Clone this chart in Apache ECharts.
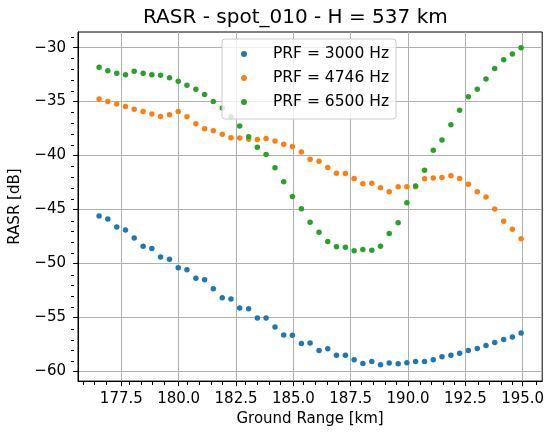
<!DOCTYPE html>
<html>
<head>
<meta charset="utf-8">
<script src="https://cdn.jsdelivr.net/npm/echarts@6/dist/echarts.min.js"></script>
<style>
  html, body { margin: 0; padding: 0; background: #fff; }
  #chart { width: 547px; height: 432px; }
</style>
</head>
<body>
<div id="chart"></div>
<script>
// Ground range samples [km]
const groundRange = [
  176.53, 176.91, 177.30, 177.68, 178.06, 178.45, 178.83, 179.21, 179.60, 179.98,
  180.36, 180.75, 181.13, 181.51, 181.90, 182.28, 182.66, 183.05, 183.43, 183.81,
  184.20, 184.58, 184.96, 185.35, 185.73, 186.12, 186.50, 186.88, 187.27, 187.65,
  188.03, 188.42, 188.80, 189.18, 189.57, 189.95, 190.33, 190.72, 191.10, 191.48,
  191.87, 192.25, 192.63, 193.02, 193.40, 193.78, 194.17, 194.55, 194.93
];

// RASR [dB] for PRF = 3000 Hz
const rasr3000 = [
  -45.60, -45.88, -46.62, -46.89, -47.63, -48.40, -48.62, -49.39, -49.60, -50.40,
  -50.59, -51.36, -51.51, -52.34, -53.17, -53.30, -54.13, -54.19, -55.05, -55.05,
  -55.88, -56.62, -56.65, -57.42, -57.36, -58.06, -57.91, -58.50, -58.50, -58.93,
  -59.26, -59.08, -59.39, -59.23, -59.30, -59.21, -59.08, -59.08, -58.93, -58.65,
  -58.50, -58.31, -58.06, -57.88, -57.60, -57.33, -57.05, -56.81, -56.44
];

// RASR [dB] for PRF = 4746 Hz
const rasr4746 = [
  -34.77, -34.99, -35.23, -35.45, -35.70, -35.91, -36.16, -36.37, -36.22, -35.91,
  -36.40, -37.05, -37.51, -37.70, -38.03, -38.34, -38.37, -38.49, -38.52, -38.43,
  -38.65, -38.95, -39.17, -39.66, -40.34, -40.53, -41.11, -41.63, -41.67, -42.13,
  -42.62, -42.56, -42.99, -43.36, -42.90, -42.90, -42.88, -42.16, -42.07, -42.03,
  -41.88, -42.13, -42.65, -43.36, -43.85, -44.95, -46.09, -46.83, -47.70
];

// RASR [dB] for PRF = 6500 Hz
const rasr6500 = [
  -31.82, -32.13, -32.37, -32.50, -32.19, -32.37, -32.50, -32.56, -32.80, -33.11,
  -33.48, -33.85, -34.34, -34.99, -35.60, -36.37, -37.26, -38.25, -39.23, -39.91,
  -41.14, -42.43, -43.79, -44.93, -46.19, -47.11, -47.97, -48.46, -48.50, -48.83,
  -48.71, -48.77, -48.40, -47.23, -46.22, -44.37, -42.83, -41.35, -39.51, -38.56,
  -37.14, -35.79, -34.56, -33.85, -32.90, -31.94, -31.11, -30.59, -30.00
];

const seriesNames = ['PRF = 3000 Hz', 'PRF = 4746 Hz', 'PRF = 6500 Hz'];
const seriesColors = ['#1f77b4', '#ff7f0e', '#2ca02c'];

// Axis ticks
const xTicks = [177.5, 180.0, 182.5, 185.0, 187.5, 190.0, 192.5, 195.0];
const yTicks = [-60, -55, -50, -45, -40, -35, -30];
const xRange = [175.61, 195.85];
const yRange = [-60.9, -28.55];

// minor ticks: every 0.5 km and every 1 dB between the major ones
const xMinor = [];
for (let v = 176.0; v <= 195.5 + 1e-9; v += 0.5) {
  const r = Math.round(v * 10) / 10;
  if (Math.abs(r / 2.5 - Math.round(r / 2.5)) > 1e-6) xMinor.push(r);
}
const yMinor = [];
for (let v = -60; v <= -29; v += 1) {
  if (v % 5 !== 0) yMinor.push(v);
}

const FONT = 'DejaVu Sans';
const minus = v => (v < 0 ? '\u2212' : '') + Math.abs(v);

const gridBox = { left: 74, top: 32, width: 470, height: 350 };

const chart = echarts.init(document.getElementById('chart'), null, { renderer: 'canvas' });

chart.setOption({
  animation: false,
  backgroundColor: '#ffffff',
  textStyle: { fontFamily: FONT, color: '#000' },
  title: {
    text: 'RASR - spot_010 - H = 537 km',
    left: 143,
    top: 8,
    padding: 0,
    textStyle: { fontFamily: FONT, fontSize: 20, fontWeight: 'normal', color: '#000' }
  },
  legend: {
    data: seriesNames,
    orient: 'vertical',
    left: 222,
    top: 39,
    z: 10,
    padding: [7, 7, 9, 19],
    itemGap: 8,
    itemWidth: 6,
    itemHeight: 6,
    icon: 'circle',
    backgroundColor: 'rgba(255,255,255,0.8)',
    borderColor: '#cccccc',
    borderWidth: 1,
    borderRadius: 3,
    textStyle: {
      fontFamily: FONT, fontSize: 15.5, color: '#000',
      lineHeight: 14, padding: [0, 0, 0, 21]
    }
  },
  grid: [
    Object.assign({ show: true, borderColor: '#000', borderWidth: 1 }, gridBox),
    Object.assign({ show: false }, gridBox)
  ],
  xAxis: [
    {
      type: 'value', gridIndex: 0, min: xRange[0], max: xRange[1],
      name: 'Ground Range [km]', nameLocation: 'middle', nameGap: 28,
      nameTextStyle: { fontFamily: FONT, fontSize: 15, color: '#000' },
      axisLine: { show: true, lineStyle: { color: '#000', width: 1 } },
      axisTick: { show: true, customValues: xTicks, length: 5, lineStyle: { color: '#000', width: 1 } },
      axisLabel: {
        customValues: xTicks, margin: 11,
        fontFamily: FONT, fontSize: 15, color: '#000',
        formatter: v => v.toFixed(1)
      },
      splitLine: { show: true, lineStyle: { color: '#b0b0b0', width: 1 } }
    },
    {
      type: 'value', gridIndex: 1, min: xRange[0], max: xRange[1],
      axisLine: { show: false },
      axisTick: { show: true, customValues: xMinor, length: 3, lineStyle: { color: '#000', width: 1 } },
      axisLabel: { show: false },
      splitLine: { show: false }
    }
  ],
  yAxis: [
    {
      type: 'value', gridIndex: 0, min: yRange[0], max: yRange[1],
      name: 'RASR [dB]', nameLocation: 'middle', nameGap: 55, nameRotate: 90,
      nameTextStyle: { fontFamily: FONT, fontSize: 15, color: '#000' },
      axisLine: { show: true, lineStyle: { color: '#000', width: 1 } },
      axisTick: { show: true, customValues: yTicks, length: 5, lineStyle: { color: '#000', width: 1 } },
      axisLabel: {
        customValues: yTicks, margin: 12,
        fontFamily: FONT, fontSize: 15, color: '#000',
        formatter: v => minus(v)
      },
      splitLine: { show: true, lineStyle: { color: '#b0b0b0', width: 1 } }
    },
    {
      type: 'value', gridIndex: 1, min: yRange[0], max: yRange[1],
      axisLine: { show: false },
      axisTick: { show: true, customValues: yMinor, length: 3, lineStyle: { color: '#000', width: 1 } },
      axisLabel: { show: false },
      splitLine: { show: false }
    }
  ],
  series: [rasr3000, rasr4746, rasr6500].map((vals, i) => ({
    name: seriesNames[i],
    type: 'scatter',
    xAxisIndex: 0,
    yAxisIndex: 0,
    symbol: 'circle',
    symbolSize: 5.5,
    itemStyle: { color: seriesColors[i], opacity: 1 },
    data: groundRange.map((x, k) => [x, vals[k]])
  }))
});
</script>
</body>
</html>
